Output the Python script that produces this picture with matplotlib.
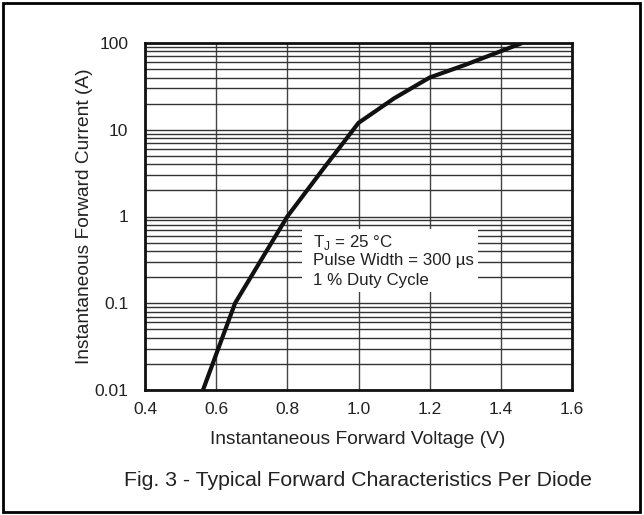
import matplotlib
matplotlib.use("Agg")
import matplotlib.pyplot as plt
from matplotlib.patches import Rectangle
from matplotlib.ticker import LogLocator, NullFormatter

plt.rcParams['font.family'] = ['Liberation Sans', 'DejaVu Sans']

voltage = [0.563, 0.653, 0.80, 0.90, 1.00, 1.10, 1.20, 1.30, 1.46]
current = [0.01, 0.1, 1.0, 3.5, 12.0, 23.0, 40.0, 56.0, 100.0]
x_ticks = [0.4, 0.6, 0.8, 1.0, 1.2, 1.4, 1.6]
x_tick_labels = ['0.4', '0.6', '0.8', '1.0', '1.2', '1.4', '1.6']
y_ticks = [0.01, 0.1, 1, 10, 100]
y_tick_labels = ['0.01', '0.1', '1', '10', '100']

W, H = 644, 515
L, R, T, B = 145, 572, 43, 390
fig = plt.figure(figsize=(W/100, H/100), dpi=100)
ax = fig.add_axes([L/W, 1 - B/H, (R-L)/W, (B-T)/H])

ax.set_xlim(0.4, 1.6)
ax.set_yscale('log')
ax.set_ylim(0.01, 100)

ax.set_xticks(x_ticks)
ax.set_xticklabels(x_tick_labels)
ax.set_yticks(y_ticks)
ax.set_yticklabels(y_tick_labels)
ax.yaxis.set_minor_locator(LogLocator(base=10, subs=range(2, 10)))
ax.yaxis.set_minor_formatter(NullFormatter())
ax.tick_params(axis='both', which='both', length=0, labelsize=12.5, colors='#222222')
ax.tick_params(axis='y', pad=12)
ax.tick_params(axis='x', pad=9)

ax.grid(True, which='major', axis='x', color='#444444', linewidth=1.0)
ax.grid(True, which='both', axis='y', color='#333333', linewidth=1.0)
ax.set_axisbelow(True)

for s in ax.spines.values():
    s.set_linewidth(2.0)
    s.set_color('#111111')

ax.plot(voltage, current, color='#111111', linewidth=3.0, solid_capstyle='butt', zorder=5)

# white box for annotation
bx0 = (302 - L) / (R - L)
by1 = (B - 229) / (B - T)
bw = (478 - 302) / (R - L)
bh = (292 - 229) / (B - T)
ax.add_patch(Rectangle((bx0, by1 - bh), bw, bh, transform=ax.transAxes,
                       facecolor='white', edgecolor='none', zorder=3))
tx = (313 - L) / (R - L)
lines = ['T$_\\mathregular{J}$ = 25 °C', 'Pulse Width = 300 µs', '1 % Duty Cycle']
ys = [242, 261, 281]
for t, yy in zip(lines, ys):
    ax.text(tx, (B - yy) / (B - T), t, transform=ax.transAxes, fontsize=12.2,
            va='center', ha='left', zorder=4, color='#222222')

ax.set_xlabel('Instantaneous Forward Voltage (V)', fontsize=13.8, color='#222222')
ax.set_ylabel('Instantaneous Forward Current (A)', fontsize=13.8, color='#222222')
ax.xaxis.set_label_coords((358 - L) / (R - L), (B - 439) / (B - T))
ax.yaxis.set_label_coords((85 - L) / (R - L), (B - 216) / (B - T))
ax.xaxis.label.set_va('center')
ax.yaxis.label.set_va('center')

fig.text(358/W, 1 - 480/H, 'Fig. 3 - Typical Forward Characteristics Per Diode',
         ha='center', va='center', fontsize=15.3, color='#222222')

fig.patches.append(Rectangle((3/W, 3/H), 637/W, 509/H, transform=fig.transFigure,
                             facecolor='none', edgecolor='black', linewidth=2.0))

fig.savefig('out.png', dpi=100)
